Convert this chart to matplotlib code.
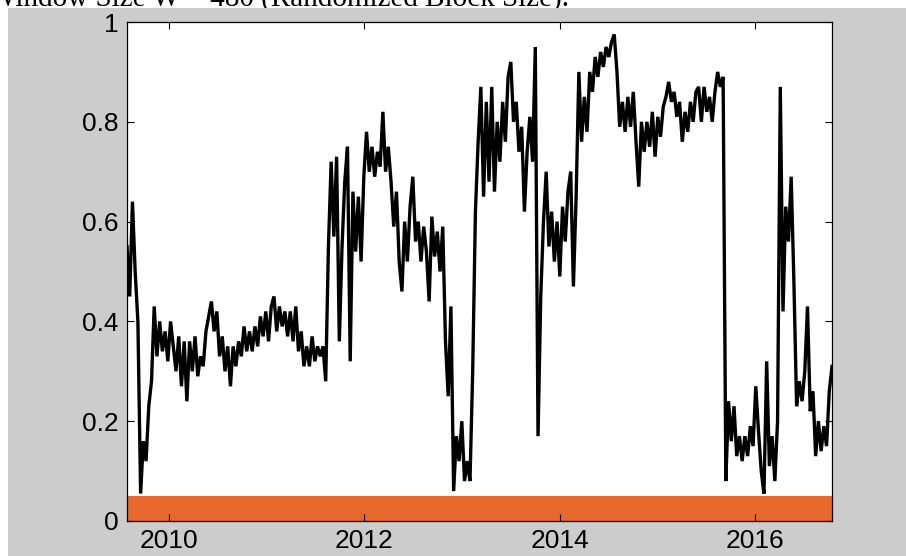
import numpy as np
import matplotlib
matplotlib.use("Agg")
import matplotlib.pyplot as plt
from matplotlib.patches import Rectangle
from matplotlib.ticker import FormatStrFormatter

# series, evenly spaced samples between start and end
t_start, t_end = 2009.57, 2016.79
values = [
    0.55, 0.45, 0.64, 0.50, 0.40, 0.055, 0.16, 0.12, 0.23, 0.28,
    0.43, 0.33, 0.40, 0.34, 0.38, 0.32, 0.40, 0.35, 0.30, 0.37,
    0.27, 0.36, 0.24, 0.36, 0.30, 0.37, 0.29, 0.33, 0.31, 0.38,
    0.41, 0.44, 0.38, 0.42, 0.33, 0.37, 0.30, 0.35, 0.27, 0.35,
    0.31, 0.36, 0.33, 0.39, 0.34, 0.38, 0.34, 0.39, 0.35, 0.41,
    0.37, 0.42, 0.36, 0.43, 0.45, 0.38, 0.43, 0.39, 0.42, 0.37,
    0.42, 0.36, 0.43, 0.34, 0.38, 0.31, 0.35, 0.31, 0.37, 0.32,
    0.35, 0.33, 0.35, 0.28, 0.55, 0.72, 0.57, 0.73, 0.36, 0.55,
    0.68, 0.75, 0.32, 0.66, 0.54, 0.65, 0.52, 0.69, 0.78, 0.70,
    0.75, 0.69, 0.74, 0.71, 0.82, 0.70, 0.75, 0.68, 0.59, 0.66,
    0.52, 0.46, 0.60, 0.52, 0.63, 0.69, 0.56, 0.60, 0.52, 0.59,
    0.54, 0.44, 0.61, 0.53, 0.58, 0.50, 0.59, 0.36, 0.25, 0.43,
    0.06, 0.17, 0.12, 0.20, 0.08, 0.12, 0.08, 0.30, 0.62, 0.76,
    0.87, 0.65, 0.84, 0.68, 0.87, 0.66, 0.80, 0.72, 0.84, 0.76,
    0.89, 0.92, 0.80, 0.84, 0.74, 0.79, 0.62, 0.74, 0.81, 0.72,
    0.95, 0.17, 0.45, 0.60, 0.70, 0.55, 0.62, 0.52, 0.60, 0.49,
    0.63, 0.56, 0.66, 0.70, 0.47, 0.65, 0.90, 0.76, 0.85, 0.78,
    0.90, 0.86, 0.93, 0.89, 0.94, 0.91, 0.95, 0.93, 0.96, 0.975,
    0.90, 0.79, 0.84, 0.78, 0.85, 0.79, 0.86, 0.76, 0.67, 0.80,
    0.74, 0.80, 0.75, 0.82, 0.73, 0.81, 0.77, 0.83, 0.85, 0.88,
    0.84, 0.86, 0.81, 0.84, 0.76, 0.82, 0.78, 0.84, 0.80, 0.86,
    0.87, 0.80, 0.87, 0.82, 0.85, 0.80, 0.86, 0.90, 0.87, 0.89,
    0.08, 0.24, 0.16, 0.23, 0.13, 0.17, 0.12, 0.17, 0.13, 0.19,
    0.15, 0.27, 0.18, 0.10, 0.055, 0.32, 0.11, 0.17, 0.08, 0.20,
    0.87, 0.42, 0.63, 0.56, 0.69, 0.48, 0.23, 0.28, 0.24, 0.30,
    0.43, 0.22, 0.26, 0.13, 0.20, 0.14, 0.19, 0.15, 0.26, 0.31,
]
band_top = 0.05
x_ticks = [2010, 2012, 2014, 2016]
y_ticks = [0, 0.2, 0.4, 0.6, 0.8, 1]
title = "Window Size W = 480 (Randomized Block Size)."

t = np.linspace(t_start, t_end, len(values))

fig = plt.figure(figsize=(9.06, 5.56), dpi=100)
fig.patch.set_facecolor("white")
# MATLAB-style grey figure area (a thin white margin is left at top and left)
fig.patches.append(Rectangle((8 / 906, 0), 1 - 8 / 906, 548 / 556,
                             transform=fig.transFigure, facecolor="#cccccc",
                             edgecolor="none", zorder=-10))
fig.text(-0.012, 550 / 556, title, family="Liberation Serif", fontsize=21,
         va="baseline", ha="left", zorder=-20)

ax = fig.add_axes([127 / 906, 35 / 556, 705 / 906, 499 / 556])
ax.set_facecolor("white")
ax.axhspan(0, band_top, color="#e8682c", lw=0)
ax.plot(t, values, color="black", lw=2.4, solid_joinstyle="miter")

ax.set_xlim(t_start, t_end)
ax.set_ylim(0, 1)
ax.set_xticks(x_ticks)
ax.set_yticks(y_ticks)
ax.yaxis.set_major_formatter(FormatStrFormatter("%g"))
ax.tick_params(direction="in", length=5, width=0.8, top=True, right=True,
               labelsize=19, colors="black")
ax.tick_params(axis="x", pad=6)
ax.tick_params(axis="y", pad=6)
for lab in ax.get_xticklabels() + ax.get_yticklabels():
    lab.set_family("Liberation Sans")
for s in ax.spines.values():
    s.set_linewidth(0.9)

fig.savefig("out.png", dpi=100, facecolor=fig.get_facecolor())
